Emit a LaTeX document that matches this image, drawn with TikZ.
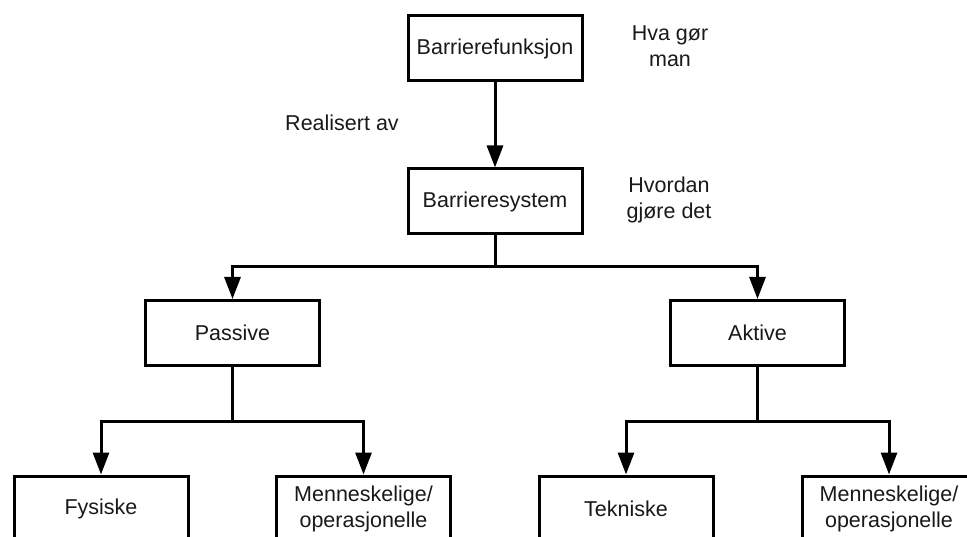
\documentclass[tikz,border=0pt]{standalone}
\usepackage{fontspec}
\setmainfont{Liberation Sans}
\usetikzlibrary{arrows.meta}
\begin{document}
\begin{tikzpicture}[x=1pt,y=-1pt,
  every node/.style={font=\fontsize{21.5}{26}\selectfont, text=black!90},
  box/.style={draw=black, line width=3pt, minimum width=174pt, minimum height=65pt,
    inner sep=0pt, align=center, fill=white},
  note/.style={align=center, inner sep=0pt},
  link/.style={line width=3pt, -{Triangle[length=22pt,width=16pt]}},
  plain/.style={line width=3pt}]
  \useasboundingbox (0,0) rectangle (967,537);
  \clip (0,0) rectangle (967,537);

  % main chain
  \node[box] (fun) at (495,48.5) {Barrierefunksjon};
  \node[box] (sys) at (495,201.5) {Barrieresystem};

  % first split
  \node[box] (pas) at (232.5,333) {Passive};
  \node[box] (akt) at (757.5,333) {Aktive};

  % second split
  \node[box] (fys) at (101,508.5) {Fysiske};
  \node[box] (mop1) at (363.5,508.5) {Menneskelige/\\operasjonelle};
  \node[box] (tek) at (626,508.5) {Tekniske};
  \node[box] (mop2) at (889,508.5) {Menneskelige/\\operasjonelle};

  % side notes
  \node[note] (hva) at (670,46.5) {Hva gør\\man};
  \node[note] (real) at (342,123) {Realisert av};
  \node[note] (hvor) at (669,200) {Hvordan\\gjøre det};

  % junction points
  \coordinate (j1) at (495,267);
  \coordinate (j2) at (232.5,421);
  \coordinate (j3) at (757.5,421);

  \draw[link] (fun.south) -- (sys.north);

  \draw[plain] (sys.south) -- (j1);
  \draw[link] (j1) -| (pas.north);
  \draw[link] (j1) -| (akt.north);

  \draw[plain] (pas.south) -- (j2);
  \draw[link] (j2) -| (fys.north);
  \draw[link] (j2) -| (mop1.north);

  \draw[plain] (akt.south) -- (j3);
  \draw[link] (j3) -| (tek.north);
  \draw[link] (j3) -| (mop2.north);
\end{tikzpicture}
\end{document}
